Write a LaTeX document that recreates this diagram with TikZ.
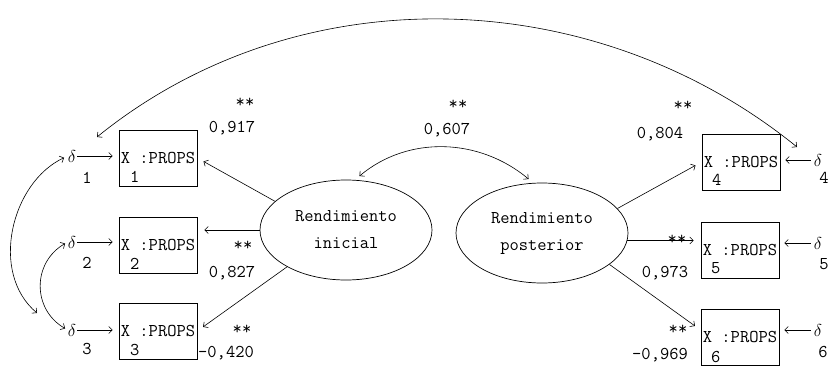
\documentclass[tikz,border=0pt]{standalone}
\usetikzlibrary{shapes.geometric,arrows.meta}
\newcommand{\tfont}{\fontsize{18}{20}\selectfont\ttfamily}
\tikzset{
  obs/.style={draw, line width=0.7pt, minimum width=78pt, minimum height=56pt, inner sep=0pt, font=\tfont},
  latent/.style={ellipse, draw, line width=0.7pt, minimum width=172pt, minimum height=100pt,
    inner sep=0pt, align=center, font=\fontsize{18}{27}\selectfont\ttfamily},
  txt/.style={font=\tfont, inner sep=0pt},
  arr/.style={-{Straight Barb[length=3.5pt,width=7pt]}, line width=0.6pt},
  cov/.style={{Straight Barb[length=3.5pt,width=7pt]}-{Straight Barb[length=3.5pt,width=7pt]}, line width=0.6pt},
}
\begin{document}
\begin{tikzpicture}[x=1pt,y=1pt]
      \useasboundingbox (0,0) rectangle (830,-372);
      % observed variables
      \node[obs] (x1) at (158,-158) {X :PROPS};
      \node[obs] (x2) at (158,-245) {X :PROPS};
      \node[obs] (x3) at (158,-331) {X :PROPS};
      \node[obs] (x4) at (741,-162) {X :PROPS};
      \node[obs] (x5) at (740,-250) {X :PROPS};
      \node[obs] (x6) at (740,-337) {X :PROPS};
      \node[txt] (i1) at ([shift={(16,9)}]x1.south west) {1};
      \node[txt] (i2) at ([shift={(16,9)}]x2.south west) {2};
      \node[txt] (i3) at ([shift={(16,9)}]x3.south west) {3};
      \node[txt] (i4) at ([shift={(15,10)}]x4.south west) {4};
      \node[txt] (i5) at ([shift={(15,10)}]x5.south west) {5};
      \node[txt] (i6) at ([shift={(15,8)}]x6.south west) {6};
      % latent variables
      \node[latent] (ini) at (346,-230) {Rendimiento\\inicial};
      \node[latent] (post) at (542,-233) {Rendimiento\\posterior};
      % errors
      \node[txt] (d1) at (72,-156) {$\delta$};
      \node[txt] (d2) at (72,-242) {$\delta$};
      \node[txt] (d3) at (72,-330) {$\delta$};
      \node[txt] (d4) at (818,-160) {$\delta$};
      \node[txt] (d5) at (818,-243) {$\delta$};
      \node[txt] (d6) at (818,-330) {$\delta$};
      \node[txt] (e1) at (87,-178) {1};
      \node[txt] (e2) at (87,-263) {2};
      \node[txt] (e3) at (87,-349) {3};
      \node[txt] (e4) at (824,-178) {4};
      \node[txt] (e5) at (824,-264) {5};
      \node[txt] (e6) at (823,-352) {6};
      % loadings
      \node[txt] (s1) at (245,-103) {**};
      \node[txt] (l1) at (232,-128) {0,917};
      \node[txt] (s2) at (243,-246) {**};
      \node[txt] (l2) at (232,-273) {0,827};
      \node[txt] (s3) at (242,-330) {**};
      \node[txt] (l3) at (226,-353) {-0,420};
      \node[txt] (s4) at (683,-106) {**};
      \node[txt] (l4) at (660,-134) {0,804};
      \node[txt] (s5) at (677,-240) {**};
      \node[txt] (l5) at (665,-273) {0,973};
      \node[txt] (s6) at (678,-330) {**};
      \node[txt] (l6) at (660,-355) {-0,969};
      \node[txt] (s7) at (458,-105) {**};
      \node[txt] (l7) at (447,-130) {0,607};
      \begin{scope}[arr, shorten >=7pt]
        \draw (ini.158) -- (x1.east);
        \draw (ini.180) -- (ini.180 -| x2.east);
        \draw (ini.212) -- (x3.east);
        \draw (post.18) -- (x4.west);
        \draw (post.-5) -- (post.-5 -| x5.west);
        \draw (post.-25) -- (x6.170);
      \end{scope}
      \begin{scope}[arr, shorten <=1pt, shorten >=6pt]
        \draw (d1.east) -- (d1.east -| x1.west);
        \draw (d2.east) -- (d2.east -| x2.west);
        \draw (d3.east) -- (d3.east -| x3.west);
      \end{scope}
      \begin{scope}[arr, shorten <=3pt, shorten >=5pt]
        \draw (d4.west) -- (d4.west -| x4.east);
        \draw (d5.west) -- (d5.west -| x5.east);
        \draw (d6.west) -- (d6.west -| x6.east);
      \end{scope}
      % covariances
      \coordinate (tl) at (97,-137);
      \coordinate (tr) at (797,-147);
      \coordinate (a3) at (37,-313);
      \draw[cov] (tl) to[out=39,in=141,looseness=0.95] (tr);
      \draw[cov, shorten <=6pt, shorten >=6pt] (ini.80) to[out=40,in=140] (post.100);
      \draw[cov, shorten <=4pt] (d1.west) to[out=205,in=140] (a3);
      \draw[cov, shorten <=3pt, shorten >=3pt] (d2.west) to[out=210,in=150,looseness=1.2] (d3.west);
    \end{tikzpicture}
\end{document}
